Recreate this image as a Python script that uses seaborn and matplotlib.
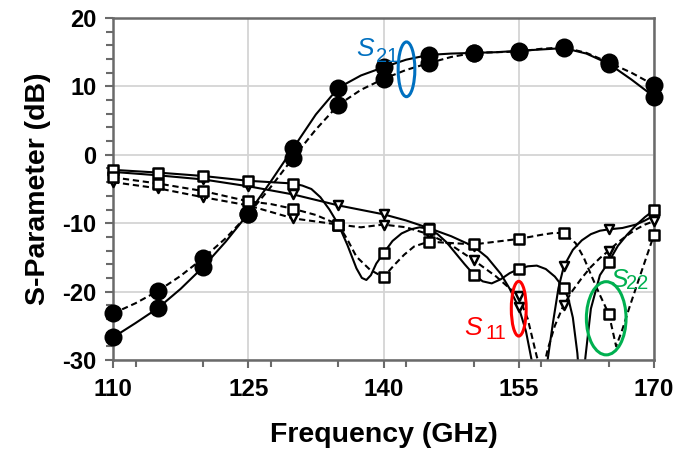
import matplotlib
matplotlib.use("Agg")
import matplotlib.pyplot as plt
import seaborn as sns
import pandas as pd
from matplotlib.patches import Ellipse
from matplotlib.ticker import MultipleLocator, FixedLocator

# ---------------- data ----------------
freq_markers = [110, 115, 120, 125, 130, 135, 140, 145, 150, 155, 160, 165, 170]

# S21 – values at marker frequencies
s21_solid_mk = [-26.7, -22.4, -16.4, -8.6, 1.0, 9.8, 12.8, 14.6, 14.9, 15.2, 15.6, 13.3, 8.5]
s21_dashed_mk = [-23.2, -19.9, -15.1, -8.7, -0.4, 7.3, 11.1, 13.4, 14.9, 15.1, 15.7, 13.5, 10.2]
# S11 – triangles
s11_solid_mk = [-2.5, -3.0, -3.6, -4.6, -5.8, -7.4, -8.7, -10.7, -13.4, -22.3, -16.3, -10.9, -8.9]
s11_dashed_mk = [-4.0, -4.9, -6.2, -7.4, -9.3, -10.2, -10.2, -11.6, -15.4, -20.7, -21.9, -14.0, -9.7]
# S22 – squares
s22_solid_mk = [-2.2, -2.6, -3.1, -3.8, -4.2, -10.2, -14.4, -10.8, -17.5, -16.7, -19.5, -15.6, -8.1]
s22_dashed_mk = [-3.3, -4.2, -5.3, -6.8, -7.9, -10.2, -17.9, -12.7, -13.1, -12.3, -11.5, -23.3, -11.7]

# traced curves
s21_curve_f = [110, 112.5, 115, 117.5, 120, 122.5, 125, 127.5, 130, 132.5, 135, 137.5, 140,
               142.5, 145, 147.5, 150, 152.5, 155, 157.5, 160, 162.5, 165, 167.5, 170]
s21_solid_curve = [-26.7, -24.6, -22.4, -19.6, -16.4, -12.7, -8.6, -3.9, 1.0, 5.9, 9.8, 11.6, 12.8,
                   13.9, 14.6, 14.8, 14.9, 15.0, 15.2, 15.4, 15.6, 14.8, 13.3, 11.0, 8.5]
s21_dashed_curve = [-23.2, -21.7, -19.9, -17.7, -15.1, -12.2, -8.7, -4.7, -0.4, 3.7, 7.3, 9.5, 11.1,
                    12.4, 13.4, 14.3, 14.9, 15.0, 15.1, 15.5, 15.7, 14.9, 13.5, 12.0, 10.2]

s11_solid_f = [110, 115, 120, 125, 130, 135, 140, 142.5, 145, 147.5, 150, 151.5, 153, 154, 155,
               155.8, 156.5, 157.3, 158.2, 158.8, 159.4, 160, 161, 162, 163, 164, 165, 166.5,
               168, 169, 170]
s11_solid_curve = [-2.5, -3.0, -3.6, -4.6, -5.8, -7.4, -8.7, -9.6, -10.7, -11.9, -13.4, -15.0, -17.4,
                   -19.6, -22.3, -25.8, -30.5, -38.0, -30.0, -24.5, -19.5, -16.3, -13.9, -12.5,
                   -11.6, -11.1, -10.9, -10.7, -10.2, -9.6, -8.9]

s11_dashed_f = [110, 115, 120, 125, 130, 135, 137.5, 140, 142.5, 145, 147.5, 150, 152.5, 155, 156,
                157, 157.6, 158.2, 159, 160, 161, 162, 163, 164, 165, 166, 167, 168, 169, 170]
s11_dashed_curve = [-4.0, -4.9, -6.2, -7.4, -9.3, -10.2, -10.6, -10.2, -10.6, -11.6, -13.2, -15.4,
                    -17.8, -20.7, -24.0, -29.5, -32.0, -28.5, -25.0, -21.9, -19.8, -18.0, -16.4,
                    -15.1, -14.0, -12.8, -11.8, -10.9, -10.2, -9.7]

s22_solid_f = [110, 115, 120, 125, 130, 131, 132, 133, 134, 135, 136, 137, 137.6, 138.1, 138.6,
               139.2, 140, 141, 142, 143, 144, 145, 146, 147, 148, 149, 150, 151, 152, 153, 154,
               155, 156, 157, 158, 159, 160, 160.5, 161, 161.5, 161.9, 162.4, 163, 164, 165,
               166, 167, 168, 169, 170]
s22_solid_curve = [-2.2, -2.6, -3.1, -3.8, -4.2, -4.5, -5.0, -6.2, -8.0, -10.2, -13.2, -16.6, -18.0,
                   -18.3, -17.6, -15.9, -14.4, -12.6, -11.5, -10.9, -10.6, -10.8, -11.6, -12.8,
                   -14.4, -16.0, -17.5, -18.5, -18.8, -18.2, -17.3, -16.7, -16.3, -16.2, -16.7,
                   -17.8, -19.5, -21.0, -23.8, -29.0, -36.0, -29.5, -22.5, -17.6, -15.6, -13.3,
                   -11.7, -10.3, -9.1, -8.1]

s22_dashed_f = [110, 115, 120, 125, 127.5, 130, 132.5, 135, 136, 137, 138.5, 140, 141.2, 142.3,
                143.4, 145, 147.5, 150, 152.5, 155, 157.5, 159, 160, 161.3, 162.2, 163.1, 164,
                165, 165.8, 166.5, 167.3, 168.5, 170]
s22_dashed_curve = [-3.3, -4.2, -5.3, -6.8, -7.2, -7.9, -8.8, -10.2, -12.4, -14.9, -16.8, -17.9,
                    -16.1, -14.6, -13.4, -12.7, -12.9, -13.1, -12.7, -12.3, -11.7, -11.4, -11.5,
                    -12.9, -15.0, -17.8, -20.5, -23.3, -28.0, -25.5, -22.2, -17.5, -11.7]

x_major = [110, 125, 140, 155, 170]
x_tick_labels = ["110", "125", "140", "155", "170"]
y_major = [-30, -20, -10, 0, 10, 20]

# ---------------- styling ----------------
sns.set_theme(style="white")
plt.rcParams["font.family"] = ["Liberation Sans", "DejaVu Sans"]
plt.rcParams["axes.unicode_minus"] = False

fig = plt.figure(figsize=(6.89, 4.53), dpi=100)
ax = fig.add_axes([113 / 689, 93 / 453, 541 / 689, 342 / 453])

DASH = (0, (3.0, 1.8))
LW = 1.5

curves = [
    (s21_curve_f, s21_solid_curve, "-"),
    (s21_curve_f, s21_dashed_curve, DASH),
    (s11_solid_f, s11_solid_curve, "-"),
    (s11_dashed_f, s11_dashed_curve, DASH),
    (s22_solid_f, s22_solid_curve, "-"),
    (s22_dashed_f, s22_dashed_curve, DASH),
]
for fx, fy, ls in curves:
    df = pd.DataFrame({"f": fx, "s": fy})
    sns.lineplot(data=df, x="f", y="s", ax=ax, color="black", lw=LW, linestyle=ls,
                 estimator=None, sort=False, zorder=2)

marker_sets = [
    (s21_solid_mk, "o", "black", 125),
    (s21_dashed_mk, "o", "black", 125),
    (s11_solid_mk, "v", "white", 42),
    (s11_dashed_mk, "v", "white", 42),
    (s22_solid_mk, "s", "white", 42),
    (s22_dashed_mk, "s", "white", 42),
]
for vals, mk, fc, sz in marker_sets:
    df = pd.DataFrame({"f": freq_markers, "s": vals})
    sns.scatterplot(data=df, x="f", y="s", ax=ax, marker=mk, s=sz, facecolor=fc,
                    edgecolor="black", linewidth=1.8, clip_on=False, zorder=4)

ax.set_xlim(110, 170)
ax.set_ylim(-30, 20)
ax.xaxis.set_major_locator(FixedLocator(x_major))
ax.set_xticklabels(x_tick_labels)
ax.xaxis.set_minor_locator(MultipleLocator(7.5))
ax.yaxis.set_major_locator(FixedLocator(y_major))
ax.yaxis.set_minor_locator(MultipleLocator(2))

ax.grid(True, which="major", color="#d4d4d4", lw=1.3, zorder=0)
ax.set_axisbelow(True)
for sp in ax.spines.values():
    sp.set_visible(True)
    sp.set_color("#6a6a6a")
    sp.set_linewidth(1.8)

ax.tick_params(axis="both", which="both", direction="out", color="#6a6a6a", width=1.5,
               bottom=True, left=True, top=False, right=False)
ax.tick_params(axis="both", which="major", length=6)
ax.tick_params(axis="both", which="minor", length=5)
ax.tick_params(axis="x", which="major", pad=7, labelsize=17.5)
ax.tick_params(axis="y", which="major", pad=6, labelsize=17)
for lab in ax.get_xticklabels() + ax.get_yticklabels():
    lab.set_fontweight("bold")
    lab.set_color("black")

ax.set_xlabel("Frequency (GHz)", fontsize=20.5, fontweight="bold", color="black", labelpad=15)
ax.set_ylabel("S-Parameter (dB)", fontsize=20.5, fontweight="bold", color="black", labelpad=8)

# ---------------- annotations ----------------
BLUE, RED, GREEN = "#0070C0", "#FF0000", "#00B050"

ax.add_patch(Ellipse((142.55, 12.5), 1.85, 8.0, fill=False, ec=BLUE, lw=2.2, zorder=5))
ax.add_patch(Ellipse((155.0, -22.5), 1.65, 8.0, fill=False, ec=RED, lw=2.2, zorder=5))
ax.add_patch(Ellipse((164.7, -23.9), 4.4, 10.7, fill=False, ec=GREEN, lw=2.2, zorder=5))

def s_label(x, y, xs, ys, sub, color):
    ax.text(x, y, "S", fontsize=19, style="italic", color=color, ha="left",
            va="baseline", zorder=6)
    ax.text(xs, ys, sub, fontsize=14.5, color=color, ha="left", va="baseline", zorder=6)

s_label(137.0, 14.4, 139.2, 13.64, "21", BLUE)
s_label(148.95, -26.36, 151.3, -26.95, "11", RED)
s_label(165.15, -19.34, 166.95, -19.64, "22", GREEN)

fig.savefig("out.png", dpi=100)
